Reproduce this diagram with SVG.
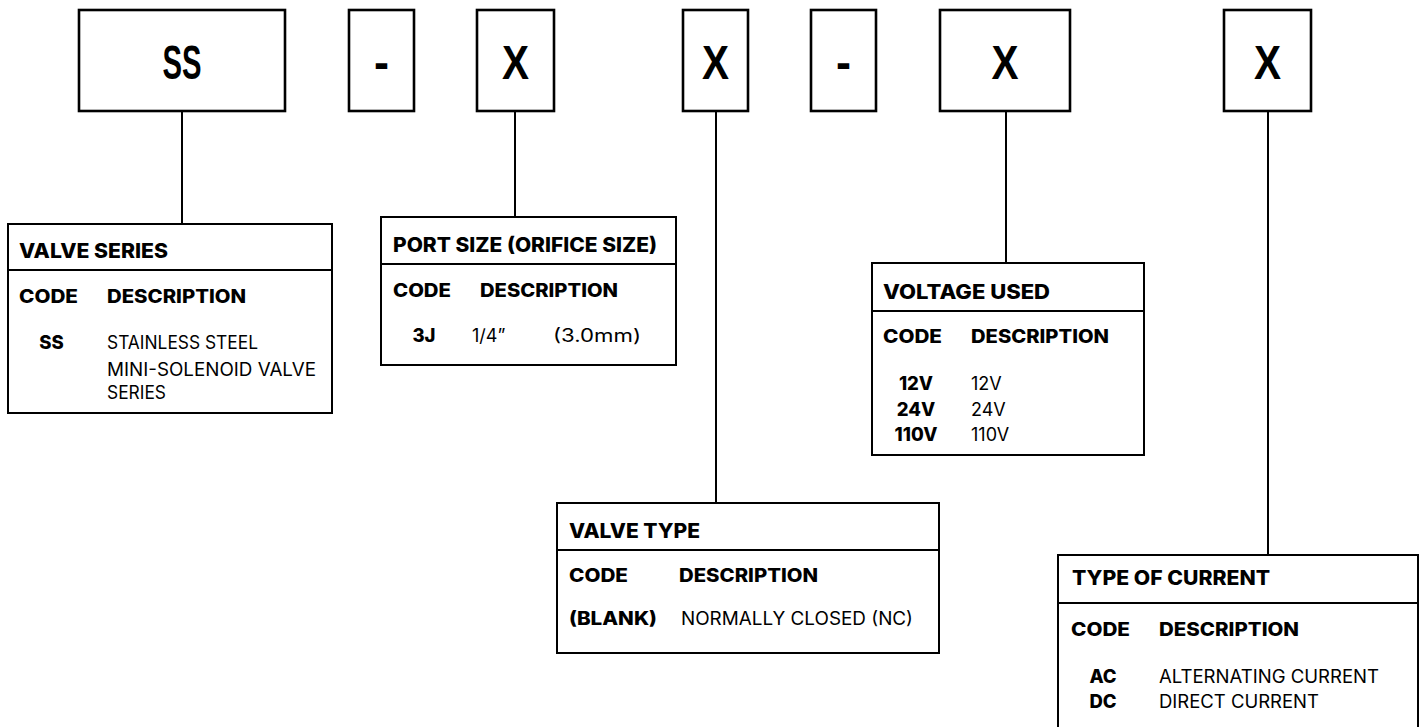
<svg xmlns="http://www.w3.org/2000/svg" width="1424" height="727" viewBox="0 0 1424 727">
<style>
.top{fill:#fff;stroke:#000;stroke-width:2.6}
.box{fill:#fff;stroke:#000;stroke-width:2}
.div{stroke:#000;stroke-width:2}
.conn{stroke:#000;stroke-width:2;fill:none}
.tt{font-family:"Liberation Sans",Arial,sans-serif;font-weight:bold;font-size:48px;text-anchor:middle;fill:#000}
.h{font-family:Inter,"Noto Sans",sans-serif;font-weight:800;font-size:20px;fill:#000}
.b{font-family:Inter,"Noto Sans",sans-serif;font-weight:800;font-size:18.5px;fill:#000}
.r{font-family:Inter,"Noto Sans",sans-serif;font-weight:400;font-size:18px;fill:#000}
.c{text-anchor:middle}
</style>
<g id="connectors">
<line class="conn" x1="182" y1="111" x2="182" y2="224"/>
<line class="conn" x1="515" y1="111" x2="515" y2="217"/>
<line class="conn" x1="716" y1="111" x2="716" y2="503"/>
<line class="conn" x1="1006" y1="111" x2="1006" y2="263"/>
<line class="conn" x1="1268" y1="111" x2="1268" y2="555"/>
</g>
<g id="code-ss">
<rect class="top" x="79" y="10" width="206" height="101"/>
<text class="tt" x="182" y="79" textLength="39" lengthAdjust="spacingAndGlyphs">SS</text>
</g>
<g id="code-dash1">
<rect class="top" x="349" y="10" width="65" height="101"/>
<text class="tt" x="381.5" y="79" textLength="15" lengthAdjust="spacingAndGlyphs">-</text>
</g>
<g id="code-x1">
<rect class="top" x="477" y="10" width="77" height="101"/>
<text class="tt" x="515.5" y="79" textLength="27" lengthAdjust="spacingAndGlyphs">X</text>
</g>
<g id="code-x2">
<rect class="top" x="683" y="10" width="65" height="101"/>
<text class="tt" x="715.5" y="79" textLength="27" lengthAdjust="spacingAndGlyphs">X</text>
</g>
<g id="code-dash2">
<rect class="top" x="811" y="10" width="65" height="101"/>
<text class="tt" x="843.5" y="79" textLength="15" lengthAdjust="spacingAndGlyphs">-</text>
</g>
<g id="code-x3">
<rect class="top" x="940" y="10" width="130" height="101"/>
<text class="tt" x="1005" y="79" textLength="27" lengthAdjust="spacingAndGlyphs">X</text>
</g>
<g id="code-x4">
<rect class="top" x="1224" y="10" width="87" height="101"/>
<text class="tt" x="1267.5" y="79" textLength="27" lengthAdjust="spacingAndGlyphs">X</text>
</g>
<g id="valve-series">
<rect class="box" x="8" y="224" width="324" height="189"/>
<line class="div" x1="8" y1="270" x2="332" y2="270"/>
<text class="h" x="19" y="258" textLength="149" lengthAdjust="spacingAndGlyphs">VALVE SERIES</text>
<text class="b" x="19" y="303" textLength="59" lengthAdjust="spacingAndGlyphs">CODE</text>
<text class="b" x="107" y="303" textLength="139" lengthAdjust="spacingAndGlyphs">DESCRIPTION</text>
<text class="b c" x="51.5" y="349">SS</text>
<text class="r" x="107" y="349" textLength="151" lengthAdjust="spacingAndGlyphs">STAINLESS STEEL</text>
<text class="r" x="107" y="376" textLength="209" lengthAdjust="spacingAndGlyphs">MINI-SOLENOID VALVE</text>
<text class="r" x="107" y="399" textLength="59" lengthAdjust="spacingAndGlyphs">SERIES</text>
</g>
<g id="port-size">
<rect class="box" x="381" y="217" width="295" height="148"/>
<line class="div" x1="381" y1="264" x2="676" y2="264"/>
<text class="h" x="393" y="252" textLength="264" lengthAdjust="spacingAndGlyphs">PORT SIZE (ORIFICE SIZE)</text>
<text class="b" x="393" y="297" textLength="58" lengthAdjust="spacingAndGlyphs">CODE</text>
<text class="b" x="480" y="297" textLength="138" lengthAdjust="spacingAndGlyphs">DESCRIPTION</text>
<text class="b c" x="424" y="342">3J</text>
<text class="r" x="472" y="342">1/4”</text>
<text class="r" x="553" y="342" textLength="88" lengthAdjust="spacingAndGlyphs">(3.0mm)</text>
</g>
<g id="voltage-used">
<rect class="box" x="872" y="263" width="272" height="192"/>
<line class="div" x1="872" y1="311" x2="1144" y2="311"/>
<text class="h" x="883" y="299" textLength="167" lengthAdjust="spacingAndGlyphs">VOLTAGE USED</text>
<text class="b" x="883" y="343" textLength="59" lengthAdjust="spacingAndGlyphs">CODE</text>
<text class="b" x="971" y="343" textLength="138" lengthAdjust="spacingAndGlyphs">DESCRIPTION</text>
<text class="b c" x="916" y="390">12V</text>
<text class="b c" x="916" y="416">24V</text>
<text class="b c" x="916" y="441">110V</text>
<text class="r" x="971" y="390">12V</text>
<text class="r" x="971" y="416">24V</text>
<text class="r" x="971" y="441">110V</text>
</g>
<g id="valve-type">
<rect class="box" x="557" y="503" width="382" height="150"/>
<line class="div" x1="557" y1="550" x2="939" y2="550"/>
<text class="h" x="569" y="538" textLength="131" lengthAdjust="spacingAndGlyphs">VALVE TYPE</text>
<text class="b" x="569" y="582" textLength="59" lengthAdjust="spacingAndGlyphs">CODE</text>
<text class="b" x="679" y="582" textLength="139" lengthAdjust="spacingAndGlyphs">DESCRIPTION</text>
<text class="b" x="569" y="625" textLength="88" lengthAdjust="spacingAndGlyphs">(BLANK)</text>
<text class="r" x="681" y="625" textLength="232" lengthAdjust="spacingAndGlyphs">NORMALLY CLOSED (NC)</text>
</g>
<g id="type-of-current">
<rect class="box" x="1058" y="555" width="360" height="190"/>
<line class="div" x1="1058" y1="603" x2="1418" y2="603"/>
<text class="h" x="1072" y="585" textLength="198" lengthAdjust="spacingAndGlyphs">TYPE OF CURRENT</text>
<text class="b" x="1071" y="636" textLength="59" lengthAdjust="spacingAndGlyphs">CODE</text>
<text class="b" x="1159" y="636" textLength="140" lengthAdjust="spacingAndGlyphs">DESCRIPTION</text>
<text class="b c" x="1103" y="683">AC</text>
<text class="b c" x="1103" y="708">DC</text>
<text class="r" x="1159" y="683" textLength="220" lengthAdjust="spacingAndGlyphs">ALTERNATING CURRENT</text>
<text class="r" x="1159" y="708" textLength="160" lengthAdjust="spacingAndGlyphs">DIRECT CURRENT</text>
</g>
</svg>
